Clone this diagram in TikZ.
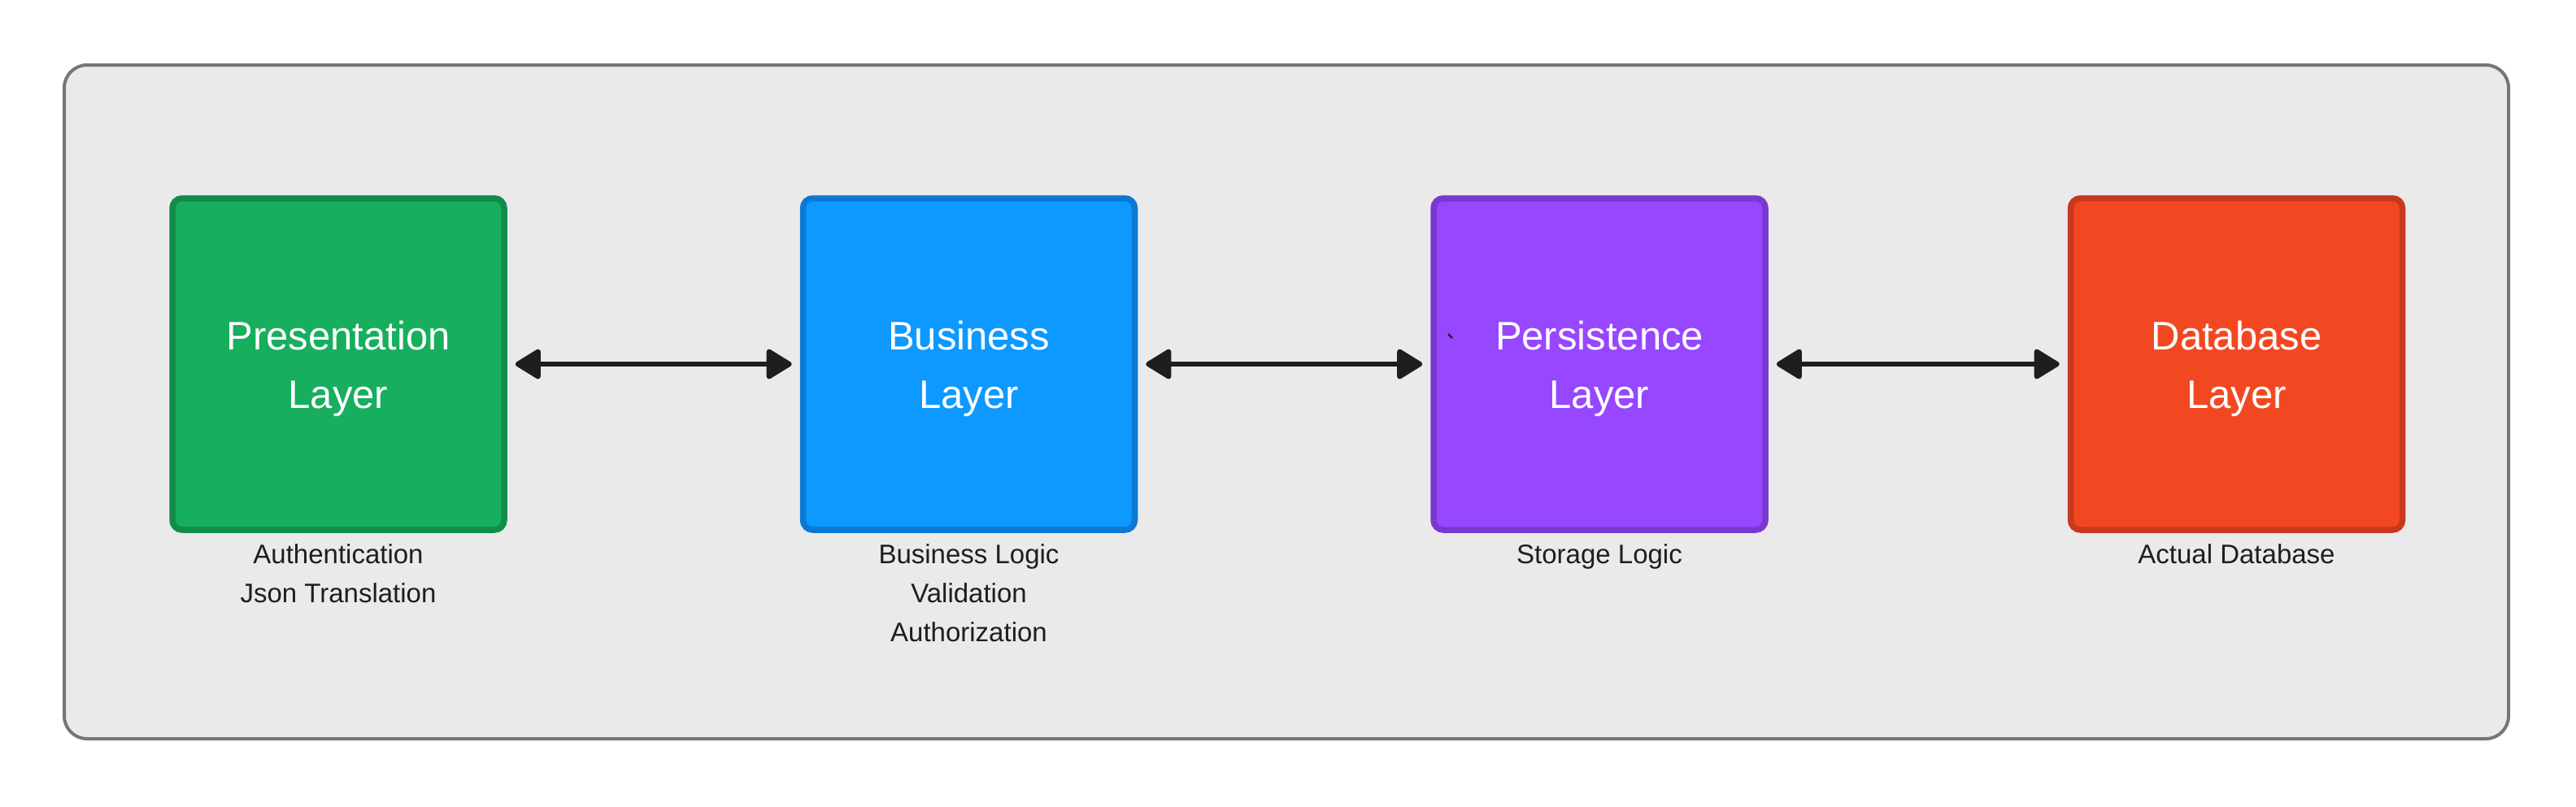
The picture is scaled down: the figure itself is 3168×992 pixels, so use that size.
\documentclass[tikz,border=0pt]{standalone}
\usepackage{fontspec}
\setmainfont{Liberation Sans}
\usepackage{xcolor}
\usepackage{tikz}
\usetikzlibrary{positioning,arrows.meta}

\definecolor{panelfill}{HTML}{EAEAEA}
\definecolor{paneledge}{HTML}{767676}
\definecolor{ink}{HTML}{1E1E1E}
\definecolor{presfill}{HTML}{17AE5E}
\definecolor{presedge}{HTML}{128C4B}
\definecolor{busifill}{HTML}{0D99FF}
\definecolor{busiedge}{HTML}{0B79D3}
\definecolor{persfill}{HTML}{9747FF}
\definecolor{persedge}{HTML}{7A38CF}
\definecolor{datafill}{HTML}{F24822}
\definecolor{dataedge}{HTML}{C7381F}

\tikzset{
  layerbox/.style={draw,line width=3.75pt,rounded corners=6pt,
    minimum width=204pt,minimum height=204pt,inner sep=0pt,
    align=center,text=white,font=\fontsize{24.5}{36}\selectfont,
    execute at begin node=\rule{0pt}{60pt}},
  layernote/.style={inner sep=0pt,align=center,text=ink,
    font=\fontsize{16.5}{24}\selectfont},
  link/.style={>={Triangle[length=17pt,width=20pt,round]},<->,
    line width=3pt,draw=ink,shorten <=5pt,shorten >=5pt},
}

\begin{document}
\begin{tikzpicture}[x=0.5pt,y=-0.5pt]
    \fill[white] (0,0) rectangle (3168,992) ;
    \useasboundingbox (0,0) rectangle (3168,992) ;
    % outer panel
    \draw[fill=panelfill,draw=paneledge,line width=2pt,rounded corners=14pt]
      (79,80) rectangle (3085,909) ;
    % the four layers
    \node[layerbox,fill=presfill,draw=presedge] (pres) at (416,448) {Presentation\\Layer} ;
    \node[layerbox,fill=busifill,draw=busiedge,right=180pt of pres] (busi) {Business\\Layer} ;
    \node[layerbox,fill=persfill,draw=persedge,right=180pt of busi] (pers) {Persistence\\Layer} ;
    \node[layerbox,fill=datafill,draw=dataedge,right=184pt of pers] (data) {Database\\Layer} ;
    \draw[ink,line width=1.2pt] (1781,411) -- (1786,416) ;
    % notes below each layer
    \node[layernote,below=6.5pt of pres] (presnote) {Authentication\\Json Translation} ;
    \node[layernote,below=6.5pt of busi] (businote) {Business Logic\\Validation\\Authorization} ;
    \node[layernote,below=6.5pt of pers] (persnote) {Storage Logic} ;
    \node[layernote,below=6.5pt of data] (datanote) {Actual Database} ;
    % links
    \draw[link] (pres) -- (busi) ;
    \draw[link] (busi) -- (pers) ;
    \draw[link] (pers) -- (data) ;
  \end{tikzpicture}
\end{document}
